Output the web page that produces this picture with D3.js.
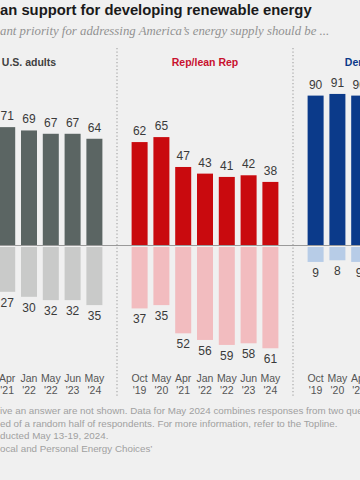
<!DOCTYPE html>
<html>
<head>
<meta charset="utf-8">
<script src="https://cdn.jsdelivr.net/npm/d3@7"></script>
<style>
  body { margin: 0; background: #f0f0f0; }
  svg { display: block; }
</style>
</head>
<body>
<svg id="chart"></svg>
<script>
var width = 360, height = 480;

// data
const panels = ["U.S. adults", "Rep/lean Rep", "Dem/lean Dem"];
const months = ["Oct", "May", "Apr", "Jan", "May", "Jun", "May"];
const years = ["'19", "'20", "'21", "'22", "'22", "'23", "'24"];
const usRenew = [77, 79, 71, 69, 67, 67, 64];
const usFossil = [22, 20, 27, 30, 32, 32, 35];
const repRenew = [62, 65, 47, 43, 41, 42, 38];
const repFossil = [37, 35, 52, 56, 59, 58, 61];
const demRenew = [90, 91, 90, 90, 90, 90, 88];
const demFossil = [9, 8, 9, 9, 9, 9, 11];

const titleText = "an support for developing renewable energy";
const subtitleText = "ant priority for addressing America\u2019s energy supply should be ...";
const notes = [
  "ive an answer are not shown. Data for May 2024 combines responses from two que",
  "ed of a random half of respondents. For more information, refer to the Topline.",
  "ducted May 13-19, 2024.",
  "ocal and Personal Energy Choices\u2019"
];

const colors = {
  "U.S. adults": { top: "#5b6563", bottom: "#c9cac9", title: "#404040" },
  "Rep/lean Rep": { top: "#c90a0e", bottom: "#f2bcbf", title: "#c8102e" },
  "Dem/lean Dem": { top: "#0b3a8a", bottom: "#b7cce7", title: "#0b3a8a" }
};

const table = [
  { panel: panels[0], renew: usRenew, fossil: usFossil },
  { panel: panels[1], renew: repRenew, fossil: repFossil },
  { panel: panels[2], renew: demRenew, fossil: demFossil }
];

const svg = d3.select("svg#chart")
  .attr("width", width)
  .attr("height", height);

svg.append("rect")
  .attr("width", width)
  .attr("height", height)
  .attr("fill", "#f0f0f0");

// scales
const zeroY = 245;
const px = d3.scaleBand().domain(panels).range([-59, -59 + 176 * 3]);
const yUp = d3.scaleLinear().domain([0, 100]).range([zeroY, zeroY - 166]);
const yDown = d3.scaleLinear().domain([0, 100]).range([zeroY + 2, zeroY + 2 + 166]);
const idx = d3.range(months.length);

function xFor(panel) {
  return d3.scaleBand()
    .domain(idx)
    .range([px(panel), px(panel) + px.bandwidth()])
    .paddingInner(0.266)
    .paddingOuter(0.67);
}

// title + subtitle
svg.append("text")
  .attr("x", 0)
  .attr("y", 15)
  .attr("font-family", "'Liberation Sans', Arial, sans-serif")
  .attr("font-weight", "bold")
  .attr("font-size", 14.8)
  .attr("fill", "#1a1a1a")
  .text(titleText);

svg.append("text")
  .attr("x", 0)
  .attr("y", 35)
  .attr("font-family", "'Liberation Serif', Georgia, serif")
  .attr("font-style", "italic")
  .attr("font-size", 12.8)
  .attr("fill", "#929292")
  .text(subtitleText);

// separators
svg.selectAll(".sep")
  .data(panels.slice(1))
  .enter().append("line")
  .attr("class", "sep")
  .attr("x1", d => px(d))
  .attr("x2", d => px(d))
  .attr("y1", 48)
  .attr("y2", 397)
  .attr("stroke", "#a8a8a8")
  .attr("stroke-width", 1.2)
  .attr("stroke-dasharray", "1.3,2.2");

table.forEach(function(p) {
  const x = xFor(p.panel);
  const c = colors[p.panel];
  const g = svg.append("g");
  const cx = i => x(i) + x.bandwidth() / 2;
  // only label the bars that are inside the picture
  const shown = idx.filter(i => cx(i) > -8 && cx(i) < width + 8);

  g.append("text")
    .attr("x", px(p.panel) + px.bandwidth() / 2)
    .attr("y", 66)
    .attr("text-anchor", "middle")
    .attr("font-family", "'Liberation Sans', Arial, sans-serif")
    .attr("font-weight", "bold")
    .attr("font-size", 10.5)
    .attr("fill", c.title)
    .text(p.panel);

  g.selectAll(".up")
    .data(p.renew)
    .enter().append("rect")
    .attr("x", (d, i) => x(i))
    .attr("width", x.bandwidth())
    .attr("y", d => yUp(d))
    .attr("height", d => zeroY - yUp(d))
    .attr("fill", c.top);

  g.selectAll(".down")
    .data(p.fossil)
    .enter().append("rect")
    .attr("x", (d, i) => x(i))
    .attr("width", x.bandwidth())
    .attr("y", yDown(0))
    .attr("height", d => yDown(d) - yDown(0))
    .attr("fill", c.bottom);

  g.selectAll(".lblUp")
    .data(shown)
    .enter().append("text")
    .attr("x", i => cx(i))
    .attr("y", i => yUp(p.renew[i]) - 7)
    .attr("text-anchor", "middle")
    .attr("font-family", "'Liberation Sans', Arial, sans-serif")
    .attr("font-size", 12)
    .attr("fill", "#3a3a3a")
    .text(i => p.renew[i]);

  g.selectAll(".lblDown")
    .data(shown)
    .enter().append("text")
    .attr("x", i => cx(i))
    .attr("y", i => yDown(p.fossil[i]) + 15)
    .attr("text-anchor", "middle")
    .attr("font-family", "'Liberation Sans', Arial, sans-serif")
    .attr("font-size", 12)
    .attr("fill", "#3a3a3a")
    .text(i => p.fossil[i]);

  const ticks = g.selectAll(".tick")
    .data(shown)
    .enter().append("text")
    .attr("text-anchor", "middle")
    .attr("font-family", "'Liberation Sans Narrow', 'Liberation Sans', Arial, sans-serif")
    .attr("font-size", 10.5)
    .attr("fill", "#555");
  ticks.append("tspan")
    .attr("x", i => cx(i))
    .attr("y", 382)
    .text(i => months[i]);
  ticks.append("tspan")
    .attr("x", i => cx(i))
    .attr("y", 394)
    .text(i => years[i]);
});

// zero line
svg.append("line")
  .attr("x1", 0).attr("x2", width)
  .attr("y1", zeroY + 0.5).attr("y2", zeroY + 0.5)
  .attr("stroke", "#9a9a9a")
  .attr("stroke-width", 1);

// notes
svg.selectAll(".note")
  .data(notes)
  .enter().append("text")
  .attr("x", 0)
  .attr("y", (d, i) => 414 + i * 12.5)
  .attr("font-family", "'Liberation Sans', Arial, sans-serif")
  .attr("font-size", 9.8)
  .attr("fill", "#a0a0a0")
  .text(d => d);
</script>
</body>
</html>
